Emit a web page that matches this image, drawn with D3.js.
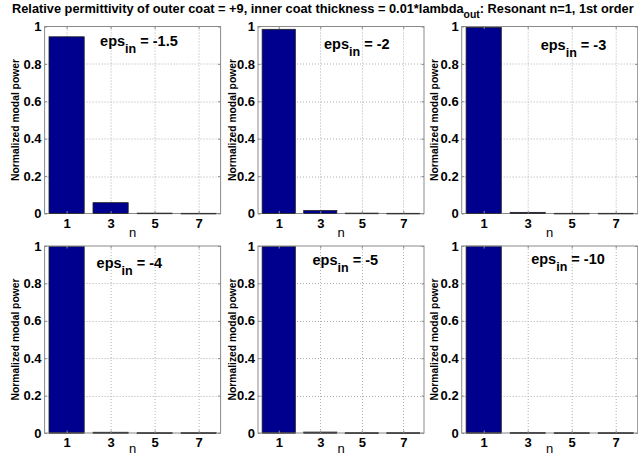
<!DOCTYPE html>
<html>
<head>
<meta charset="utf-8">
<script src="https://cdn.jsdelivr.net/npm/d3@7/dist/d3.min.js"></script>
<style>
  html, body { margin: 0; padding: 0; background: #fff; }
  svg { display: block; font-family: "Liberation Sans", Arial, sans-serif; }
  .nlabel { opacity: 0.99; }
</style>
</head>
<body>
<svg id="chart" width="638" height="455"></svg>
<script>
// ---- data ----
const nValues = [1, 3, 5, 7];
const epsInLabels = ["-1.5", "-2", "-3", "-4", "-5", "-10"];
const powerEpsM1_5 = [0.945, 0.058, 0.002, 0.001];
const powerEpsM2   = [0.985, 0.016, 0.002, 0.001];
const powerEpsM3   = [0.995, 0.006, 0.001, 0.001];
const powerEpsM4   = [0.998, 0.004, 0.001, 0.001];
const powerEpsM5   = [0.998, 0.005, 0.001, 0.001];
const powerEpsM10  = [0.999, 0.002, 0.001, 0.001];
const yTicks = [0, 0.2, 0.4, 0.6, 0.8, 1];
const yTickLabels = ["0", "0.2", "0.4", "0.6", "0.8", "1"];
const xTickLabels = ["1", "3", "5", "7"];
const titleMain = "Relative permittivity of outer coat = +9, inner coat thickness = 0.01*lambda";
const titleSub = "out";
const titleEnd = ": Resonant n=1, 1st order";
const yLabelText = "Normalized modal power";
const xLabelText = "n";

const series = [powerEpsM1_5, powerEpsM2, powerEpsM3, powerEpsM4, powerEpsM5, powerEpsM10];

// ---- layout ----
const colLeft = [44.6, 258, 461.7];
const colWidth = [176, 166, 176];
const rowTop = [26.5, 246];
const rowHeight = 187;
const nLabelOffset = [23.2, 19.8];
const epsPos = [[55.5, 19.5], [66, 22], [79, 23.5], [52, 22], [54.5, 18.5], [69.5, 17.5]];
const yLabelOffset = [-29, -25.5, -27];

const svg = d3.select("#chart");
const barColor = "#00008f";
const axisColor = "#8a8a8a";

// title
const title = svg.append("text")
  .attr("x", 0).attr("y", 13.5)
  .attr("font-size", 13.5).attr("font-weight", "bold").attr("fill", "#000");
title.append("tspan").text(titleMain);
title.append("tspan").attr("dy", 5).attr("font-size", 11).text(titleSub);
title.append("tspan").attr("dy", -5).text(titleEnd);
{
  const bb = title.node().getBBox();
  const targetL = 12, targetW = 623;
  const s = targetW / bb.width;
  title.attr("transform", `translate(${targetL},0) scale(${s},1)`);
}

series.forEach((vals, i) => {
  const col = i % 3, row = Math.floor(i / 3);
  const L = colLeft[col], W = colWidth[col], T = rowTop[row], H = rowHeight;
  const g = svg.append("g").attr("transform", `translate(${L},${T})`);

  const x = d3.scaleLinear().domain([0, 8]).range([0, W]);
  const y = d3.scaleLinear().domain([0, 1]).range([H, 0]);

  // grid
  const grid = g.append("g").attr("stroke", "#b0b0b0").attr("stroke-width", 1)
    .attr("stroke-dasharray", "1,2");
  grid.selectAll("line.gx").data(nValues).enter().append("line")
    .attr("x1", d => Math.round(x(d)) + 0.5).attr("x2", d => Math.round(x(d)) + 0.5)
    .attr("y1", 0).attr("y2", H);
  grid.selectAll("line.gy").data(yTicks.slice(1, -1)).enter().append("line")
    .attr("x1", 0).attr("x2", W)
    .attr("y1", d => Math.round(y(d)) + 0.5).attr("y2", d => Math.round(y(d)) + 0.5);

  // bars
  g.selectAll("rect.bar").data(vals).enter().append("rect")
    .attr("x", (d, j) => x(nValues[j] - 0.8))
    .attr("width", (d, j) => x(nValues[j] + 0.8) - x(nValues[j] - 0.8))
    .attr("y", d => y(d))
    .attr("height", d => Math.max(0.6, y(0) - y(d)))
    .attr("fill", barColor)
    .attr("stroke", "#222")
    .attr("stroke-width", 0.8);

  // axes box
  g.append("rect").attr("x", 0).attr("y", 0).attr("width", W).attr("height", H)
    .attr("fill", "none").attr("stroke", axisColor).attr("stroke-width", 1);

  // baseline over bars
  g.selectAll("line.base").data(vals).enter().append("line")
    .attr("x1", (d, j) => x(nValues[j] - 0.8)).attr("x2", (d, j) => x(nValues[j] + 0.8))
    .attr("y1", H).attr("y2", H).attr("stroke", "#333").attr("stroke-width", 1.2);

  // axes (d3) for ticks and labels
  const yAxis = d3.axisLeft(y).tickValues(yTicks)
    .tickFormat((d, k) => yTickLabels[k]).tickSizeInner(-2.5).tickSizeOuter(0).tickPadding(3);
  const ya = g.append("g").call(yAxis);
  ya.select(".domain").remove();
  ya.selectAll("line").attr("stroke", axisColor);
  ya.selectAll("text").attr("font-size", 13).attr("font-weight", "bold")
    .attr("fill", "#000").attr("font-family", "Liberation Sans, Arial, sans-serif");

  const yAxisR = d3.axisRight(y).tickValues(yTicks).tickFormat("").tickSizeInner(-2.5).tickSizeOuter(0);
  const yr = g.append("g").attr("transform", `translate(${W},0)`).call(yAxisR);
  yr.select(".domain").remove();
  yr.selectAll("line").attr("stroke", axisColor);

  const xAxis = d3.axisBottom(x).tickValues(nValues)
    .tickFormat((d, k) => xTickLabels[k]).tickSizeInner(-2.5).tickSizeOuter(0).tickPadding(5);
  const xa = g.append("g").attr("transform", `translate(0,${H})`).call(xAxis);
  xa.select(".domain").remove();
  xa.selectAll("line").attr("stroke", axisColor);
  xa.selectAll("text").attr("font-size", 13).attr("font-weight", "bold")
    .attr("fill", "#000").attr("font-family", "Liberation Sans, Arial, sans-serif");

  const xAxisT = d3.axisTop(x).tickValues(nValues).tickFormat("").tickSizeInner(-2.5).tickSizeOuter(0);
  const xt = g.append("g").call(xAxisT);
  xt.select(".domain").remove();
  xt.selectAll("line").attr("stroke", axisColor);

  // x label
  g.append("text").attr("class", "nlabel").attr("x", W / 2).attr("y", H + nLabelOffset[row])
    .attr("text-anchor", "middle").attr("font-size", 13).attr("fill", "#000")
    .attr("font-family", "Liberation Sans, Arial, sans-serif")
    .text(xLabelText);

  // y label
  g.append("text")
    .attr("transform", `translate(${yLabelOffset[col] + 3.5},${H / 2}) rotate(-90)`)
    .attr("text-anchor", "middle").attr("font-size", 10.3).attr("font-weight", "bold")
    .attr("fill", "#000").text(yLabelText);

  // eps label
  const et = g.append("text").attr("x", epsPos[i][0]).attr("y", epsPos[i][1])
    .attr("font-size", 14.5).attr("font-weight", "bold").attr("fill", "#000");
  et.append("tspan").text("eps");
  et.append("tspan").attr("dy", 7).attr("font-size", 12.5).text("in");
  et.append("tspan").attr("dy", -7).text(" = " + epsInLabels[i]);
});
</script>
</body>
</html>
